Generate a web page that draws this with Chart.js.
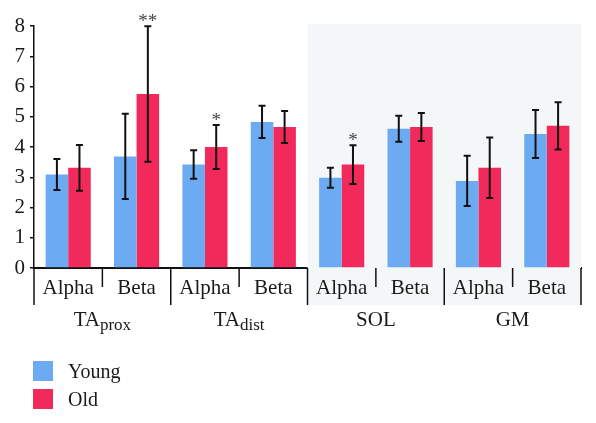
<!DOCTYPE html>
<html lang="en">
<head>
  <meta charset="UTF-8">
  <title>Young vs Old - Alpha/Beta</title>
  <script src="https://cdnjs.cloudflare.com/ajax/libs/Chart.js/4.4.0/chart.umd.min.js"></script>
  <style>
    html, body {
      margin: 0;
      padding: 0;
      background: #ffffff;
    }
    .chart-box {
      position: relative;
      width: 596px;
      height: 423px;
    }
  </style>
</head>
<body>
  <div class="chart-box">
    <canvas id="bandChart"></canvas>
  </div>

  <script>
    // Data
    const categories = ['Alpha', 'Beta', 'Alpha', 'Beta', 'Alpha', 'Beta', 'Alpha', 'Beta'];
    const groupNames = ['TA', 'TA', 'SOL', 'GM'];
    const groupSubs = ['prox', 'dist', '', ''];
    const seriesNames = ['Young', 'Old'];
    const youngValues = [3.09, 3.69, 3.42, 4.83, 2.98, 4.60, 2.88, 4.43];
    const youngErrors = [0.51, 1.41, 0.47, 0.53, 0.33, 0.43, 0.83, 0.79];
    const oldValues = [3.31, 5.75, 4.00, 4.66, 3.42, 4.66, 3.31, 4.70];
    const oldErrors = [0.76, 2.24, 0.73, 0.53, 0.64, 0.46, 1.00, 0.78];
    const oldStars = ['', '**', '*', '', '*', '', '', ''];
    const yTicks = [0, 1, 2, 3, 4, 5, 6, 7, 8];

    const BLUE = '#6caaf2';
    const RED = '#f22a5c';
    const SERIF = '"Liberation Serif", "DejaVu Serif", serif';

    // Shaded panel, category/group dividers, labels, error bars, legend
    const decorPlugin = {
      id: 'decor',
      beforeDatasetsDraw(chart) {
        const ctx = chart.ctx;
        const x = chart.scales.x;
        const area = chart.chartArea;
        const half = (x.getPixelForValue(1) - x.getPixelForValue(0)) / 2;
        ctx.save();
        ctx.fillStyle = '#f4f7f8';
        const left = x.getPixelForValue(4) - half;
        ctx.fillRect(left, area.top - 2, area.right - left, area.bottom + 37 - (area.top - 2));
        ctx.restore();
      },
      afterDatasetsDraw(chart) {
        const ctx = chart.ctx;
        const x = chart.scales.x;
        const y = chart.scales.y;
        const area = chart.chartArea;
        const half = (x.getPixelForValue(1) - x.getPixelForValue(0)) / 2;

        // error bars
        const errs = [youngErrors, oldErrors];
        const vals = [youngValues, oldValues];
        ctx.save();
        ctx.strokeStyle = '#111';
        ctx.lineWidth = 2;
        chart.data.datasets.forEach((ds, d) => {
          const meta = chart.getDatasetMeta(d);
          meta.data.forEach((bar, i) => {
            const top = y.getPixelForValue(vals[d][i] + errs[d][i]);
            const bot = y.getPixelForValue(vals[d][i] - errs[d][i]);
            ctx.beginPath();
            ctx.moveTo(bar.x, top);
            ctx.lineTo(bar.x, bot);
            ctx.moveTo(bar.x - 3.5, top);
            ctx.lineTo(bar.x + 3.5, top);
            ctx.moveTo(bar.x - 3.5, bot);
            ctx.lineTo(bar.x + 3.5, bot);
            ctx.stroke();
            if (d === 1 && oldStars[i]) {
              ctx.fillStyle = '#444';
              ctx.font = '19px ' + SERIF;
              ctx.textAlign = 'center';
              ctx.textBaseline = 'alphabetic';
              ctx.fillText(oldStars[i], bar.x, top + 1);
            }
          });
        });
        ctx.restore();

        // dividers under the x axis
        ctx.save();
        ctx.strokeStyle = '#111';
        ctx.lineWidth = 1.5;
        for (let i = 0; i <= categories.length; i++) {
          const bx = (i < categories.length ? x.getPixelForValue(i) - half : x.getPixelForValue(i - 1) + half);
          const len = i % 2 === 0 ? 37 : 19;
          ctx.beginPath();
          ctx.moveTo(bx, area.bottom);
          ctx.lineTo(bx, area.bottom + len);
          ctx.stroke();
        }

        // category labels
        ctx.fillStyle = '#1a1a1a';
        ctx.font = '21px ' + SERIF;
        ctx.textAlign = 'center';
        ctx.textBaseline = 'alphabetic';
        categories.forEach((c, i) => {
          ctx.fillText(c, x.getPixelForValue(i), area.bottom + 26);
        });

        // group labels with subscripts
        groupNames.forEach((g, k) => {
          const cx = (x.getPixelForValue(2 * k) + x.getPixelForValue(2 * k + 1)) / 2;
          const base = area.bottom + 58;
          ctx.font = '21px ' + SERIF;
          const w1 = ctx.measureText(g).width;
          ctx.font = '17px ' + SERIF;
          const w2 = groupSubs[k] ? ctx.measureText(groupSubs[k]).width : 0;
          const start = cx - (w1 + w2) / 2;
          ctx.textAlign = 'left';
          ctx.font = '21px ' + SERIF;
          ctx.fillText(g, start, base);
          if (groupSubs[k]) {
            ctx.font = '17px ' + SERIF;
            ctx.fillText(groupSubs[k], start + w1, base + 4);
          }
        });

        // legend
        const colors = [BLUE, RED];
        ctx.font = '20px ' + SERIF;
        ctx.textAlign = 'left';
        seriesNames.forEach((name, i) => {
          const top = 361 + i * 28;
          ctx.fillStyle = colors[i];
          ctx.fillRect(33, top, 20, 20);
          ctx.fillStyle = '#1a1a1a';
          ctx.fillText(name, 68, top + 17);
        });
        ctx.restore();
      }
    };

    const ctx = document.getElementById('bandChart').getContext('2d');
    new Chart(ctx, {
      type: 'bar',
      data: {
        labels: categories,
        datasets: [
          {
            label: seriesNames[0],
            data: youngValues,
            backgroundColor: BLUE,
            borderWidth: 0,
            categoryPercentage: 0.66,
            barPercentage: 1.0
          },
          {
            label: seriesNames[1],
            data: oldValues,
            backgroundColor: RED,
            borderWidth: 0,
            categoryPercentage: 0.66,
            barPercentage: 1.0
          }
        ]
      },
      options: {
        responsive: true,
        maintainAspectRatio: false,
        animation: false,
        layout: {
          padding: { top: 26, right: 15, bottom: 0, left: 0 }
        },
        scales: {
          x: {
            ticks: { display: false },
            grid: { display: false },
            border: { display: true, color: '#111', width: 2 },
            afterFit: (scale) => { scale.height = 155; }
          },
          y: {
            min: 0,
            max: 8,
            afterBuildTicks: (scale) => { scale.ticks = yTicks.map(v => ({ value: v })); },
            ticks: {
              color: '#1a1a1a',
              padding: 5,
              font: { family: SERIF, size: 21 }
            },
            grid: {
              drawOnChartArea: false,
              drawTicks: true,
              tickLength: 4,
              color: '#111',
              lineWidth: 1.5
            },
            border: { display: true, color: '#111', width: 1.5 },
            afterFit: (scale) => { scale.width = 34; }
          }
        },
        plugins: {
          legend: { display: false },
          tooltip: { enabled: false }
        }
      },
      plugins: [decorPlugin]
    });
  </script>
</body>
</html>
